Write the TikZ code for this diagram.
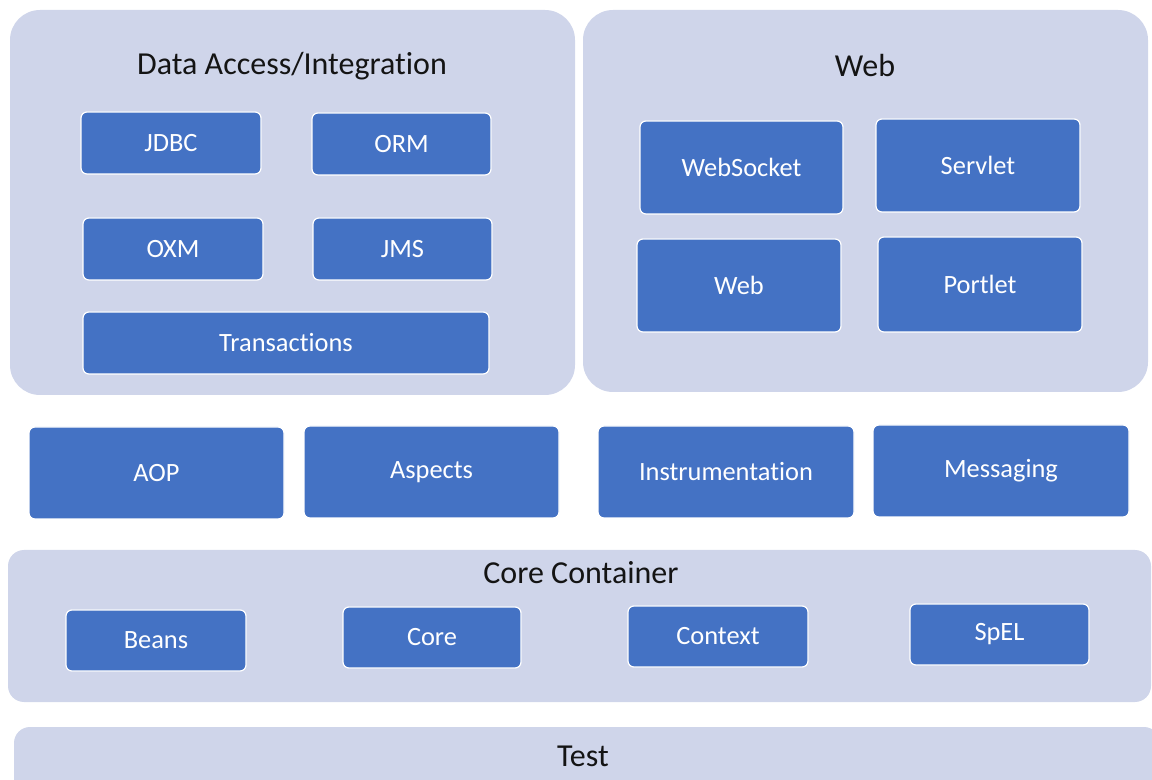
\documentclass[tikz,border=0pt]{standalone}
\usepackage{fontspec}
\setmainfont{Carlito}[Ligatures=NoCommon]
\usepackage{tikz}
\usetikzlibrary{positioning}
\definecolor{panelcolor}{RGB}{207, 213, 234}
\definecolor{modulecolor}{RGB}{68, 114, 196}
\definecolor{titlecolor}{RGB}{20, 20, 20}

\begin{document}
\begin{tikzpicture}[x=0.5pt, y=-0.5pt,
    panel/.style={fill=panelcolor, draw=none, rounded corners=15pt, inner sep=0pt},
    module/.style={fill=modulecolor, draw=white, line width=0.6pt, rounded corners=3pt,
        text=white, font=\fontsize{13.2}{15}\selectfont, inner sep=0pt},
    paneltitle/.style={text=titlecolor, font=\fontsize{16}{19}\selectfont, inner sep=0pt}]
        \useasboundingbox (0,0) rectangle (1152,780);
        \clip (0,0) rectangle (1152,780);

        % Panels
        \node[panel, minimum width=282.5pt, minimum height=192.5pt] (dataaccess) at (292.5,202.5) {};
        \node[panel, minimum width=282.5pt, minimum height=191pt] (webpanel) at (865.5,201) {};
        \node[panel, rounded corners=8pt, minimum width=571.5pt, minimum height=76pt] (corepanel) at (579.5,626) {};
        \node[panel, rounded corners=8pt, minimum width=573pt, minimum height=36.5pt] (testpanel) at (587,763.5) {};

        % Panel titles
        \node[paneltitle] (dataaccesstitle) at (292,66) {Data Access/Integration};
        \node[paneltitle] (webtitle) at (865,66) {Web};
        \node[paneltitle] (coretitle) at (581,573) {Core Container};
        \node[paneltitle] (testtitle) at (583,756) {Test};

        % Data Access/Integration modules
        \node[module, minimum width=90pt, minimum height=31pt] (jdbc) at (171,143) {JDBC};
        \node[module, minimum width=89.5pt, minimum height=31pt] (orm) at (401.5,144) {ORM};
        \node[module, minimum width=90pt, minimum height=31pt] (oxm) at (173,249) {OXM};
        \node[module, minimum width=89.5pt, minimum height=31pt] (jms) at (402.5,249) {JMS};
        \node[module, minimum width=203pt, minimum height=31pt] (transactions) at (286,343) {Transactions};

        % Web modules
        \node[module, minimum width=101.5pt, minimum height=46.5pt] (websocket) at (741.5,167.5) {WebSocket};
        \node[module, minimum width=102pt, minimum height=46.5pt] (servlet) at (978,165.5) {Servlet};
        \node[module, minimum width=102pt, minimum height=46.5pt] (web) at (739,285.5) {Web};
        \node[module, minimum width=102pt, minimum height=47.5pt] (portlet) at (980,284.5) {Portlet};

        % Middle row
        \node[module, minimum width=127.5pt, minimum height=46pt] (aop) at (156.5,473) {AOP};
        \node[module, minimum width=127.5pt, minimum height=46pt] (aspects) at (431.5,472) {Aspects};
        \node[module, minimum width=128pt, minimum height=46pt] (instrumentation) at (726,472) {Instrumentation};
        \node[module, minimum width=128pt, minimum height=46pt] (messaging) at (1001,471) {Messaging};

        % Core Container modules
        \node[module, minimum width=90pt, minimum height=30.5pt] (beans) at (156,640.5) {Beans};
        \node[module, minimum width=89pt, minimum height=30.5pt] (core) at (432,637.5) {Core};
        \node[module, minimum width=90pt, minimum height=30.5pt] (context) at (718,636.5) {Context};
        \node[module, minimum width=89.5pt, minimum height=30.5pt] (spel) at (999.5,634.5) {SpEL};

    \end{tikzpicture}
\end{document}
